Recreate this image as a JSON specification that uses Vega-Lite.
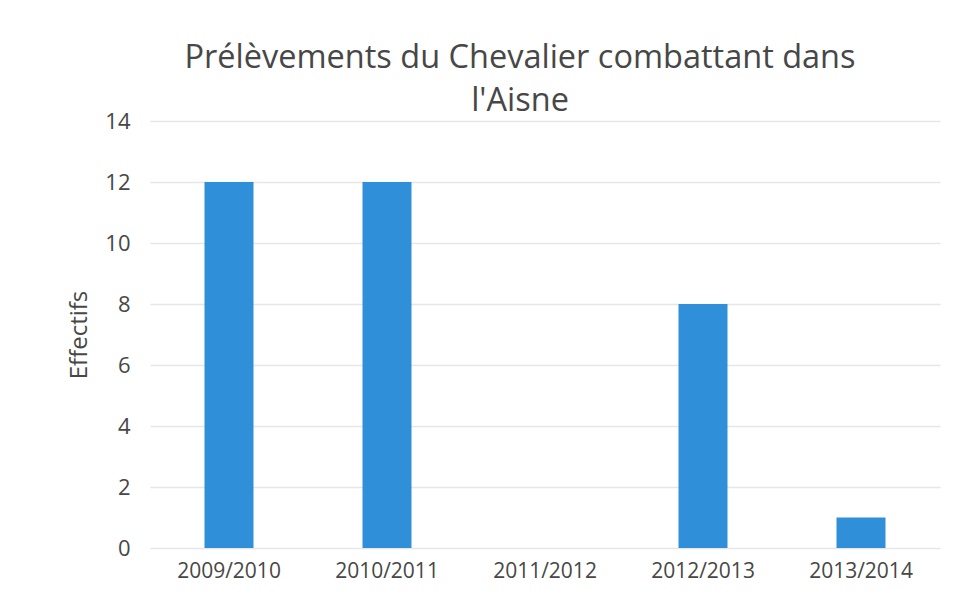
{
  "$schema": "https://vega.github.io/schema/vega-lite/v6.json",
  "width": 790,
  "height": 427,
  "autosize": {"type": "none"},
  "padding": {"left": 150, "top": 121, "right": 13, "bottom": 59},
  "background": "white",
  "title": {
    "text": ["Prélèvements du Chevalier combattant dans", "l'Aisne"],
    "font": "Open Sans",
    "fontSize": 32.5,
    "fontWeight": "normal",
    "color": "#474747",
    "anchor": "middle",
    "dx": -25,
    "offset": -7,
    "lineHeight": 43
  },
  "data": {
    "values": [
      {"saison": "2009/2010", "effectif": 12},
      {"saison": "2010/2011", "effectif": 12},
      {"saison": "2011/2012", "effectif": 0},
      {"saison": "2012/2013", "effectif": 8},
      {"saison": "2013/2014", "effectif": 1}
    ]
  },
  "mark": {"type": "bar", "color": "#2f8fd8"},
  "encoding": {
    "x": {
      "field": "saison",
      "type": "nominal",
      "sort": null,
      "scale": {"paddingInner": 0.69, "paddingOuter": 0.345},
      "axis": {
        "title": null,
        "labelAngle": 0,
        "labelFont": "Open Sans",
        "labelFontSize": 21,
        "labelColor": "#474747",
        "labelPadding": 12,
        "ticks": false,
        "domain": false
      }
    },
    "y": {
      "field": "effectif",
      "type": "quantitative",
      "scale": {"domain": [0, 14]},
      "axis": {
        "title": "Effectifs",
        "titleFont": "Open Sans",
        "titleFontSize": 24,
        "titleFontWeight": "normal",
        "titleColor": "#474747",
        "titlePadding": 13,
        "values": [0, 2, 4, 6, 8, 10, 12, 14],
        "labelFont": "Open Sans",
        "labelFontSize": 22,
        "labelColor": "#474747",
        "labelPadding": 20,
        "ticks": false,
        "domain": false,
        "gridColor": "#e6e6e6",
        "gridWidth": 1.5
      }
    }
  },
  "config": {"view": {"stroke": null}}
}
